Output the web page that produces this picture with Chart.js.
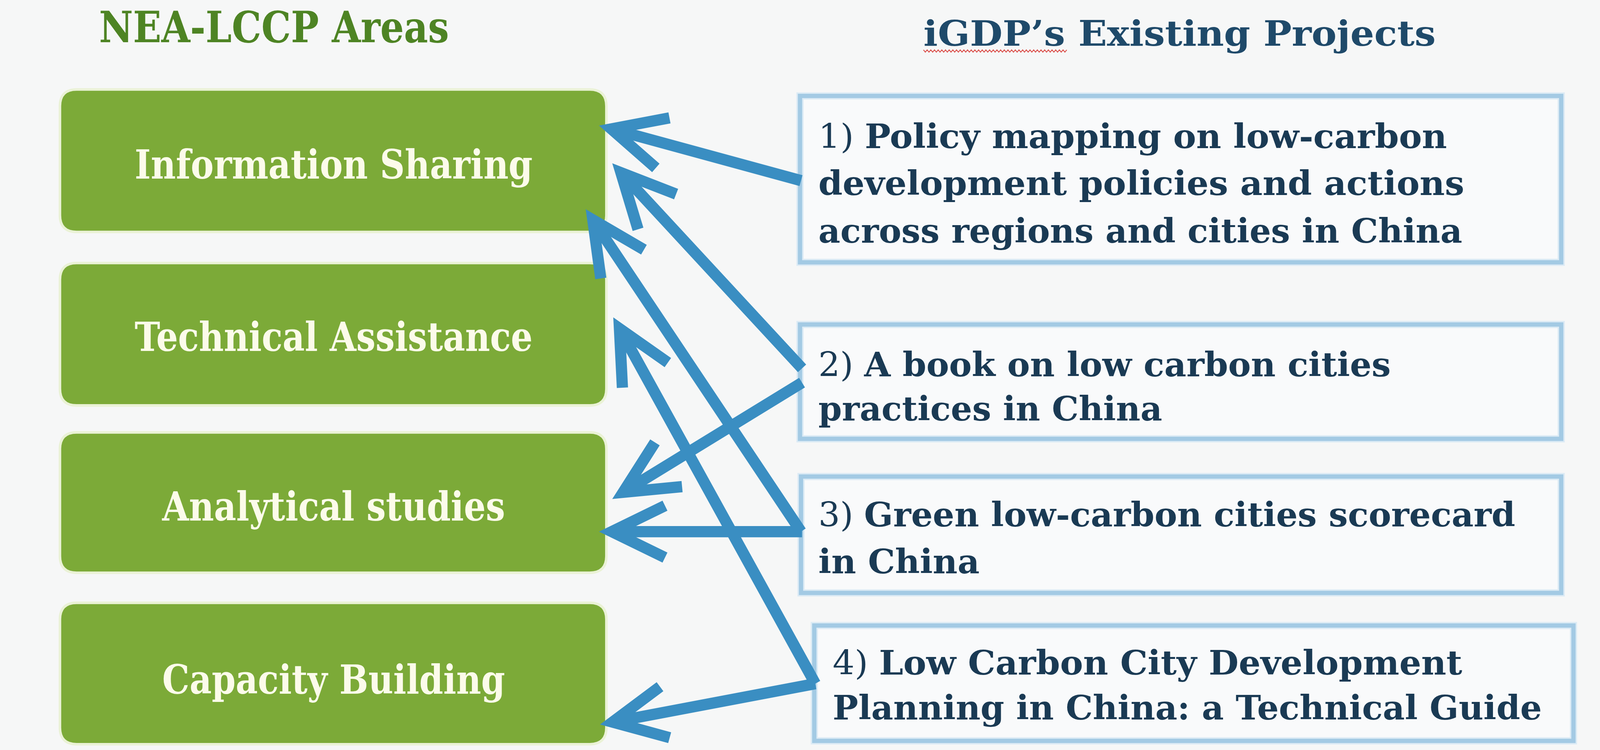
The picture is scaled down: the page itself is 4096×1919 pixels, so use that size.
<!DOCTYPE html>
<html>
<head>
<meta charset="utf-8">
<script src="https://cdn.jsdelivr.net/npm/chart.js@4.4.1/dist/chart.umd.min.js"></script>
<style>
  html, body { margin: 0; padding: 0; background: #f6f7f7; }
  #wrap { width: 4096px; height: 1919px; }
</style>
</head>
<body>
<div id="wrap"><canvas id="diagram"></canvas></div>
<script>
// headings
const leftTitle = 'NEA-LCCP Areas';
const rightTitle = 'iGDP\u2019s Existing Projects';

// NEA-LCCP areas (green boxes)
const areas = ['Information Sharing', 'Technical Assistance', 'Analytical studies', 'Capacity Building'];

// iGDP projects, wrapped as in the picture
const projectNumbers = ['1)', '2)', '3)', '4)'];
const projectLines = [
    ['Policy mapping on low-carbon', 'development policies and actions', 'across regions and cities in China'],
    ['A book on low carbon cities', 'practices in China'],
    ['Green low-carbon cities scorecard', 'in China'],
    ['Low Carbon City Development', 'Planning in China: a Technical Guide']
];

// links: project -> area
const linkFrom = [0, 1, 1, 2, 2, 3, 3];
const linkTo   = [0, 0, 2, 0, 2, 1, 3];
// arrow ends (tail on the project box, tip at the area box)
const tailPoints = [[785, 177], [786, 361], [786, 375], [785, 521], [786, 521], [799, 670], [799, 670]];
const tipPoints  = [[587, 123], [600, 160], [600, 489], [574, 205], [587, 521], [601, 311], [588, 710]];

// ---- layout (design units, picture is 1568 x 735) ----
const W = 1568, H = 735;
const U = 4096 / W;
const areaBox = { x0: 60, x1: 593, top: [89, 259, 425, 592], bottom: [226, 396, 560, 728], r: 15 };
const areaText = { cx: 327, base: [175, 344, 510, 680], width: [390, 390, 336, 336], cap: 28.5 };
const projBox = { x0: [784, 784, 785, 798], x1: [1530, 1530, 1530, 1542], top: [94, 318, 467, 613], bottom: [257, 430, 581, 726] };
const projText = {
    x: [802, 802, 802, 816],
    base: [[145, 191, 238], [369, 412], [516, 562], [661, 705]],
    width: [[616, 633, 631], [561, 337], [683, 158], [617, 695]],
    cap: 24
};
const titles = {
    left: { x: 97, base: 41.5, width: 343, cap: 31 },
    right: { x: 905, base: 45, width: 502, cap: 25 }
};
const FONT = '"DejaVu Serif"';
const CAP = 0.729;
const ARROW = '#3a8ec2';
const LW = 11, HEAD = 58, HALF = 26 * Math.PI / 180;

// ---- arrows as line datasets ----
const datasets = [];
tailPoints.forEach(function(tail, i) {
    const tip = tipPoints[i];
    const dx = tail[0] - tip[0], dy = tail[1] - tip[1];
    const len = Math.hypot(dx, dy);
    const ux = dx / len, uy = dy / len;
    const back = (LW / 2) / Math.sin(HALF);
    const vx = tip[0] + ux * back, vy = tip[1] + uy * back;
    const rot = a => [ux * Math.cos(a) - uy * Math.sin(a), ux * Math.sin(a) + uy * Math.cos(a)];
    const b1 = rot(HALF), b2 = rot(-HALF);
    const name = projectNumbers[linkFrom[i]] + ' \u2192 ' + areas[linkTo[i]];
    const common = {
        showLine: true,
        borderColor: ARROW,
        borderWidth: LW * U,
        pointRadius: 0,
        tension: 0,
        fill: false
    };
    datasets.push(Object.assign({ label: name, data: [{ x: tail[0], y: tail[1] }, { x: vx, y: vy }], borderCapStyle: 'butt' }, common));
    datasets.push(Object.assign({
        label: name + ' head',
        data: [
            { x: vx + b1[0] * HEAD, y: vy + b1[1] * HEAD },
            { x: vx, y: vy },
            { x: vx + b2[0] * HEAD, y: vy + b2[1] * HEAD }
        ],
        borderCapStyle: 'butt',
        borderJoinStyle: 'miter'
    }, common));
});

function roundRect(ctx, x, y, w, h, r) {
    ctx.beginPath();
    ctx.moveTo(x + r, y);
    ctx.lineTo(x + w - r, y);
    ctx.quadraticCurveTo(x + w, y, x + w, y + r);
    ctx.lineTo(x + w, y + h - r);
    ctx.quadraticCurveTo(x + w, y + h, x + w - r, y + h);
    ctx.lineTo(x + r, y + h);
    ctx.quadraticCurveTo(x, y + h, x, y + h - r);
    ctx.lineTo(x, y + r);
    ctx.quadraticCurveTo(x, y, x + r, y);
    ctx.closePath();
}

// draws text parts squeezed to a given width
function fitText(ctx, parts, x, y, width, fontPx, align) {
    let total = 0;
    parts.forEach(function(p) {
        ctx.font = p.w + ' ' + fontPx + 'px ' + FONT;
        p.m = ctx.measureText(p.t).width;
        total += p.m;
    });
    const s = width / total;
    ctx.save();
    ctx.translate(align === 'center' ? x - width / 2 : x, y);
    ctx.scale(s, 1);
    let cx = 0;
    parts.forEach(function(p) {
        ctx.font = p.w + ' ' + fontPx + 'px ' + FONT;
        ctx.fillText(p.t, cx, 0);
        cx += p.m;
    });
    ctx.restore();
}

const boxesPlugin = {
    id: 'boxes',
    beforeDraw(chart) {
        const ctx = chart.ctx;
        ctx.save();
        ctx.fillStyle = '#f6f7f7';
        ctx.fillRect(0, 0, chart.width, chart.height);
        ctx.restore();
    },
    beforeDatasetsDraw(chart) {
        const ctx = chart.ctx;
        const px = v => chart.scales.x.getPixelForValue(v);
        const py = v => chart.scales.y.getPixelForValue(v);
        const k = chart.chartArea.width / W;
        ctx.save();
        ctx.textBaseline = 'alphabetic';
        ctx.textAlign = 'left';

        // titles
        ctx.fillStyle = '#4e8424';
        fitText(ctx, [{ t: leftTitle, w: 'bold' }], px(titles.left.x), py(titles.left.base),
            titles.left.width * k, titles.left.cap / CAP * k, 'left');
        ctx.fillStyle = '#1f4a6a';
        fitText(ctx, [{ t: rightTitle, w: 'bold' }], px(titles.right.x), py(titles.right.base),
            titles.right.width * k, titles.right.cap / CAP * k, 'left');

        // spell-check squiggle under "iGDP's"
        ctx.strokeStyle = '#d9443f';
        ctx.lineWidth = 0.8 * k;
        ctx.beginPath();
        let up = true;
        for (let x = 905; x <= 1047; x += 1.8) {
            const y = 50 + (up ? -1.1 : 1.1);
            if (x === 905) ctx.moveTo(px(x), py(y)); else ctx.lineTo(px(x), py(y));
            up = !up;
        }
        ctx.stroke();

        // green area boxes
        areas.forEach(function(name, i) {
            const x = px(areaBox.x0), y = py(areaBox.top[i]);
            const w = (areaBox.x1 - areaBox.x0) * k, h = (areaBox.bottom[i] - areaBox.top[i]) * k;
            roundRect(ctx, x, y, w, h, areaBox.r * k);
            ctx.strokeStyle = '#eaf2d6';
            ctx.lineWidth = 5 * k;
            ctx.stroke();
            ctx.fillStyle = '#7caa38';
            ctx.fill();
            ctx.fillStyle = '#fcfbea';
            fitText(ctx, [{ t: name, w: 'bold' }], px(areaText.cx), py(areaText.base[i]),
                areaText.width[i] * k, areaText.cap / CAP * k, 'center');
        });

        // project boxes
        projectLines.forEach(function(lines, i) {
            const x = px(projBox.x0[i]), y = py(projBox.top[i]);
            const w = (projBox.x1[i] - projBox.x0[i]) * k, h = (projBox.bottom[i] - projBox.top[i]) * k;
            ctx.fillStyle = '#f9fafb';
            ctx.fillRect(x, y, w, h);
            ctx.strokeStyle = '#dcebf5';
            ctx.lineWidth = 7 * k;
            ctx.strokeRect(x, y, w, h);
            ctx.strokeStyle = '#a3cae4';
            ctx.lineWidth = 4.2 * k;
            ctx.strokeRect(x, y, w, h);
            ctx.fillStyle = '#1a3a54';
            lines.forEach(function(line, j) {
                const parts = j === 0
                    ? [{ t: projectNumbers[i] + ' ', w: 'normal' }, { t: line, w: 'bold' }]
                    : [{ t: line, w: 'bold' }];
                fitText(ctx, parts, px(projText.x[i]), py(projText.base[i][j]),
                    projText.width[i][j] * k, projText.cap / CAP * k, 'left');
            });
        });
        ctx.restore();
    }
};

new Chart(document.getElementById('diagram').getContext('2d'), {
    type: 'scatter',
    data: { datasets: datasets },
    options: {
        responsive: true,
        maintainAspectRatio: false,
        animation: false,
        layout: { padding: 0 },
        plugins: {
            legend: { display: false },
            tooltip: { enabled: false }
        },
        scales: {
            x: { type: 'linear', min: 0, max: W, display: false },
            y: { type: 'linear', min: 0, max: H, reverse: true, display: false }
        }
    },
    plugins: [boxesPlugin]
});
</script>
</body>
</html>
